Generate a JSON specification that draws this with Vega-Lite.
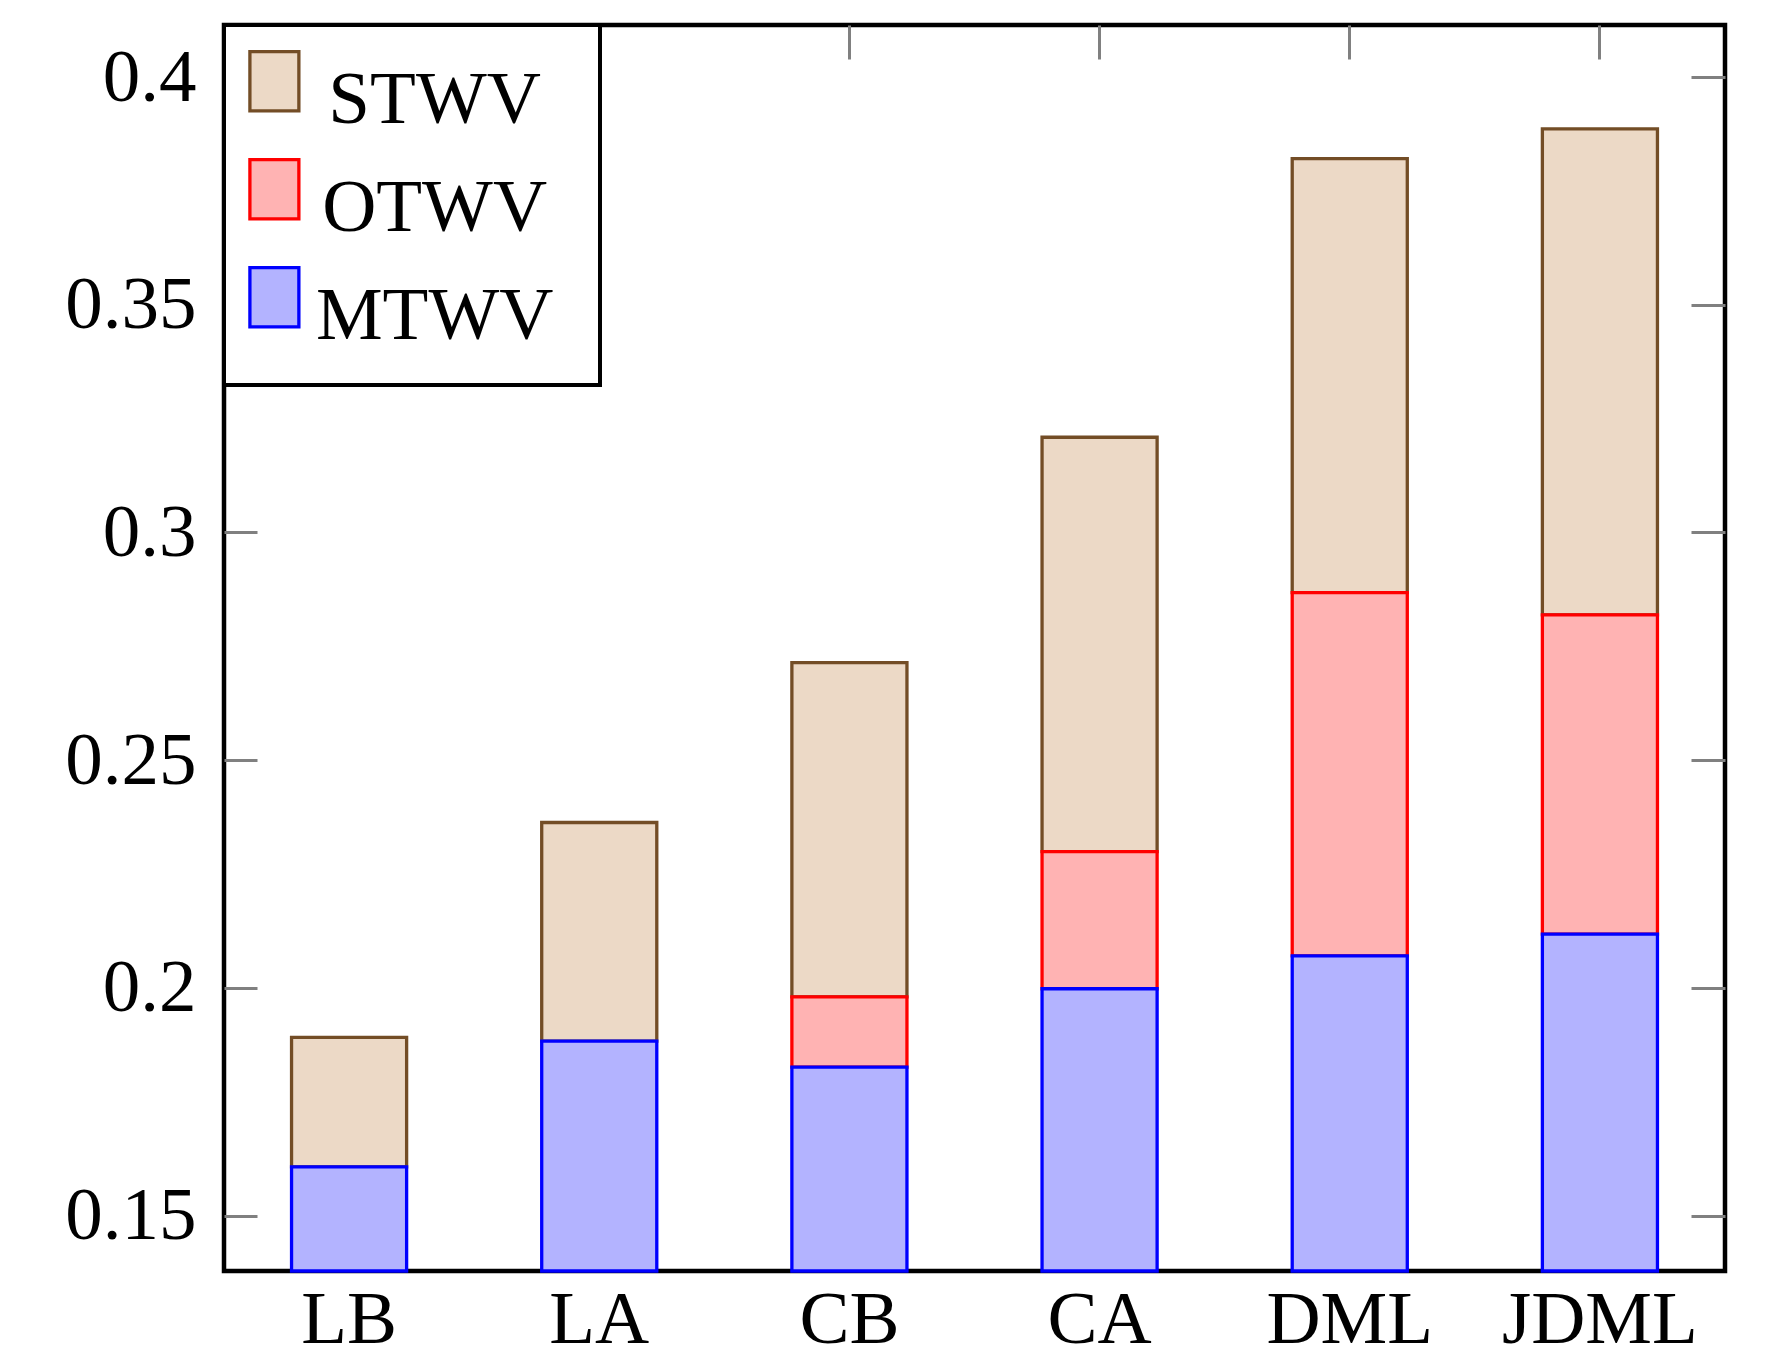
{
  "$schema": "https://vega.github.io/schema/vega-lite/v6.json",
  "width": 1501,
  "height": 1246,
  "autosize": {"type": "none"},
  "padding": {"left": 224, "top": 25, "right": 62, "bottom": 87},
  "background": "white",
  "config": {
    "view": {"stroke": "black", "strokeWidth": 4.5},
    "font": "Liberation Serif",
    "axis": {
      "domain": false,
      "grid": false,
      "tickColor": "#808080",
      "tickWidth": 3,
      "labelFont": "Liberation Serif",
      "labelFontSize": 75,
      "labelColor": "black",
      "labelLimit": 400,
      "title": null
    },
    "legend": {
      "orient": "top-left",
      "offset": 0,
      "padding": 19,
      "fillColor": "white",
      "strokeColor": "black",
      "strokeWidth": 4,
      "symbolType": "M-0.905,-0.892H0.007V0.21H-0.905ZM5.12,0.805",
      "symbolSize": 11535,
      "symbolStrokeWidth": 3.3,
      "symbolOpacity": 1,
      "labelFont": "Liberation Serif",
      "labelFontSize": 75,
      "labelColor": "black",
      "labelAlign": "center",
      "labelOffset": 80.6,
      "labelLimit": 400,
      "rowPadding": 2
    }
  },
  "data": {
    "values": [
      {"method": "LB", "series": "STWV", "value": 0.0284},
      {"method": "LA", "series": "STWV", "value": 0.0480},
      {"method": "CB", "series": "STWV", "value": 0.0734},
      {"method": "CA", "series": "STWV", "value": 0.0910},
      {"method": "DML", "series": "STWV", "value": 0.0953},
      {"method": "JDML", "series": "STWV", "value": 0.1067},
      {"method": "CB", "series": "OTWV", "value": 0.0154},
      {"method": "CA", "series": "OTWV", "value": 0.0301},
      {"method": "DML", "series": "OTWV", "value": 0.0798},
      {"method": "JDML", "series": "OTWV", "value": 0.0701},
      {"method": "LB", "series": "MTWV", "value": 0.1607},
      {"method": "LA", "series": "MTWV", "value": 0.1883},
      {"method": "CB", "series": "MTWV", "value": 0.1826},
      {"method": "CA", "series": "MTWV", "value": 0.1998},
      {"method": "DML", "series": "MTWV", "value": 0.2070},
      {"method": "JDML", "series": "MTWV", "value": 0.2118}
    ]
  },
  "layer": [
    {
      "mark": {"type": "bar", "strokeWidth": 3.3},
      "encoding": {
        "x": {
          "field": "method",
          "type": "nominal",
          "sort": ["LB", "LA", "CB", "CA", "DML", "JDML"],
          "scale": {"paddingInner": 0.54, "paddingOuter": 0.27},
          "axis": {"orient": "bottom", "ticks": false, "labelAngle": 0, "labelPadding": 12, "labelBaseline": "top"}
        },
        "y": {
          "field": "value",
          "type": "quantitative",
          "stack": "zero",
          "scale": {"domain": [0.13782, 0.41142], "clamp": true, "nice": false, "zero": false},
          "axis": {"orient": "left", "values": [0.15, 0.2, 0.25, 0.3, 0.35, 0.4], "format": "~g", "tickSize": -33, "labelPadding": 61, "labelBaseline": "middle"}
        },
        "fill": {
          "field": "series",
          "type": "nominal",
          "scale": {"domain": ["STWV", "OTWV", "MTWV"], "range": ["#ECD9C6", "#FFB3B3", "#B3B3FF"]},
          "legend": {"title": null, "encode": {"legend": {"update": {"strokeWidth": {"value": 4}}}}}
        },
        "stroke": {
          "field": "series",
          "type": "nominal",
          "scale": {"domain": ["STWV", "OTWV", "MTWV"], "range": ["#734D26", "#FF0000", "#0000FF"]},
          "legend": {"title": null, "encode": {"legend": {"update": {"strokeWidth": {"value": 4}}}}}
        },
        "order": {"field": "series", "sort": "ascending"}
      }
    },
    {
      "mark": {"type": "bar", "opacity": 0, "fillOpacity": 0, "strokeOpacity": 0},
      "encoding": {
        "x": {
          "field": "method",
          "type": "nominal",
          "sort": ["LB", "LA", "CB", "CA", "DML", "JDML"],
          "axis": {"orient": "top", "labels": false, "tickSize": -34}
        },
        "y": {
          "field": "value",
          "type": "quantitative",
          "stack": "zero",
          "axis": {"orient": "right", "labels": false, "values": [0.15, 0.2, 0.25, 0.3, 0.35, 0.4], "tickSize": -34}
        }
      }
    }
  ],
  "resolve": {"axis": {"x": "independent", "y": "independent"}}
}
